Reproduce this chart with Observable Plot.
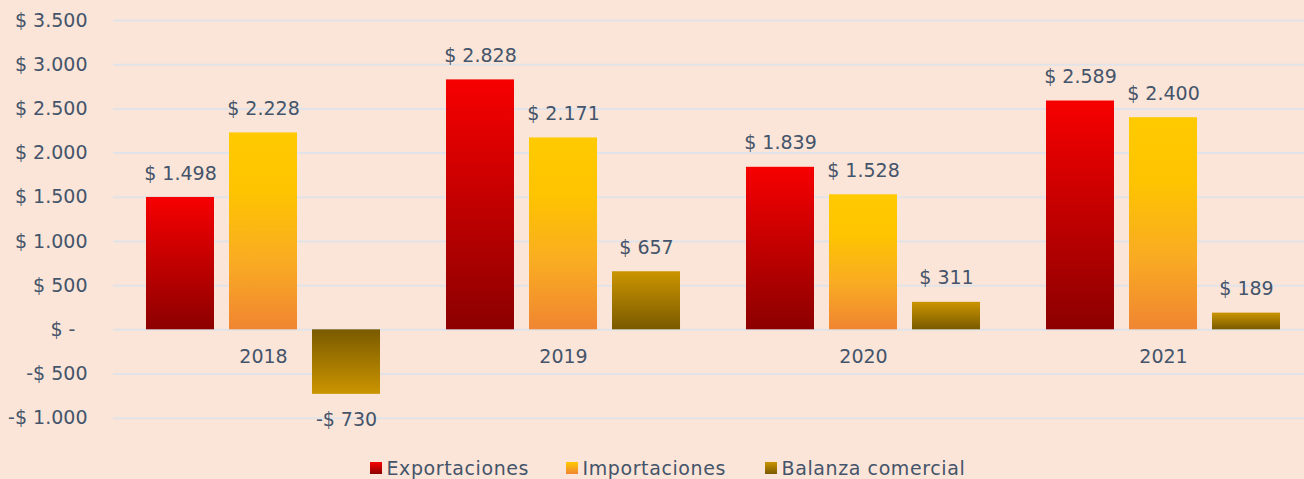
<!DOCTYPE html>
<html>
<head>
<meta charset="utf-8">
<script src="https://cdn.jsdelivr.net/npm/d3@7"></script>
<script src="https://cdn.jsdelivr.net/npm/@observablehq/plot@0.6"></script>
<style>
  html, body { margin: 0; padding: 0; background: #fbe5d8; overflow: hidden; width: 1304px; height: 479px; }
  #chart { position: relative; width: 1304px; height: 479px; overflow: hidden; font-family: "DejaVu Sans", sans-serif; }
  #chart svg { max-width: none !important; display: block; }
  #legend { position: absolute; left: 0; top: 440px; width: 1304px; height: 39px; }
  .item { position: absolute; top: 17px; display: flex; align-items: center; font-size: 19px; letter-spacing: 0.6px; color: #44546a; white-space: nowrap; line-height: 22px; }
  .sw { width: 12px; height: 12px; margin-right: 5px; }
</style>
</head>
<body>
<div id="chart"></div>
<script>
const years = ["2018", "2019", "2020", "2021"];
const series = ["Exportaciones", "Importaciones", "Balanza comercial"];
const exportaciones = [1498, 2828, 1839, 2589];
const importaciones = [2228, 2171, 1528, 2400];
const balanza = [-730, 657, 311, 189];
const yTicks = [-1000, -500, 0, 500, 1000, 1500, 2000, 2500, 3000, 3500];

const values = [exportaciones, importaciones, balanza];
const data = [];
years.forEach((y, i) => series.forEach((s, j) => data.push({year: y, series: s, value: values[j][i]})));

const gradIds = {"Exportaciones": "gExp", "Importaciones": "gImp", "Balanza comercial": "gBal"};
const fillFor = d => d.series === "Balanza comercial" && d.value < 0 ? "url(#gBalNeg)" : `url(#${gradIds[d.series]})`;

const loc = d3.formatLocale({decimal: ",", thousands: ".", grouping: [3], currency: ["$ ", ""], minus: "-"});
const fmt = loc.format("$,.0f");
const tickFmt = v => v === 0 ? "$ -\u00a0\u00a0" : fmt(v);

const textColor = "#44546a";

function defs() {
  const ns = "http://www.w3.org/2000/svg";
  const d = document.createElementNS(ns, "defs");
  const mk = (id, stops) => {
    const g = document.createElementNS(ns, "linearGradient");
    g.setAttribute("id", id);
    g.setAttribute("x1", "0"); g.setAttribute("y1", "0");
    g.setAttribute("x2", "0"); g.setAttribute("y2", "1");
    stops.forEach(([o, c]) => {
      const s = document.createElementNS(ns, "stop");
      s.setAttribute("offset", o); s.setAttribute("stop-color", c);
      g.appendChild(s);
    });
    d.appendChild(g);
  };
  mk("gExp", [[0, "#f70000"], [1, "#8c0000"]]);
  mk("gImp", [[0, "#ffca00"], [0.3, "#fec400"], [0.65, "#f9ac22"], [1, "#f08532"]]);
  mk("gBal", [[0, "#cb9500"], [1, "#7a5a00"]]);
  mk("gBalNeg", [[0, "#7a5a00"], [1, "#cb9500"]]);
  return d;
}

const plot = Plot.plot({
  width: 1313,
  height: 440,
  marginTop: 20,
  marginBottom: 22.3,
  marginLeft: 113,
  marginRight: 0,
  style: {background: "transparent", fontFamily: "DejaVu Sans, sans-serif", fontSize: "19px", color: textColor, maxWidth: "none"},
  fx: {domain: years, padding: 0, axis: null},
  x: {domain: series, paddingInner: 0.1807, paddingOuter: 0.3974, axis: null, round: false},
  y: {domain: [-1000, 3500], axis: null},
  color: {type: "identity"},
  marks: [
    defs,
    Plot.ruleY(yTicks, {stroke: "#e1e3e8", strokeWidth: 2}),
    Plot.axisY(yTicks, {anchor: "left", label: null, tickSize: 0, tickPadding: 26, tickFormat: tickFmt, fill: textColor, fontSize: 19}),
    Plot.barY(data, {fx: "year", x: "series", y: "value", fill: fillFor}),
    Plot.text(data.filter(d => d.value >= 0), {fx: "year", x: "series", y: "value", text: d => fmt(d.value), dy: -24, fill: textColor, fontSize: 19}),
    Plot.text(data.filter(d => d.value < 0), {fx: "year", x: "series", y: "value", text: d => fmt(d.value), dy: 26, fill: textColor, fontSize: 19}),
    Plot.text(years, {fx: d => d, y: () => 0, text: d => d, dy: 27, fill: textColor, fontSize: 19})
  ]
});
document.getElementById("chart").appendChild(plot);

const legend = document.createElement("div");
legend.id = "legend";
const legendItems = [
  {name: series[0], left: 369.5, bg: "linear-gradient(#f70000, #8c0000)"},
  {name: series[1], left: 565.5, bg: "linear-gradient(#ffca00, #f08532)"},
  {name: series[2], left: 764.5, bg: "linear-gradient(#cb9500, #7a5a00)"}
];
legendItems.forEach(it => {
  const el = document.createElement("div");
  el.className = "item";
  el.style.left = it.left + "px";
  const sw = document.createElement("span");
  sw.className = "sw";
  sw.style.background = it.bg;
  const tx = document.createElement("span");
  tx.textContent = it.name;
  el.appendChild(sw); el.appendChild(tx);
  legend.appendChild(el);
});
document.getElementById("chart").appendChild(legend);
</script>
</body>
</html>
